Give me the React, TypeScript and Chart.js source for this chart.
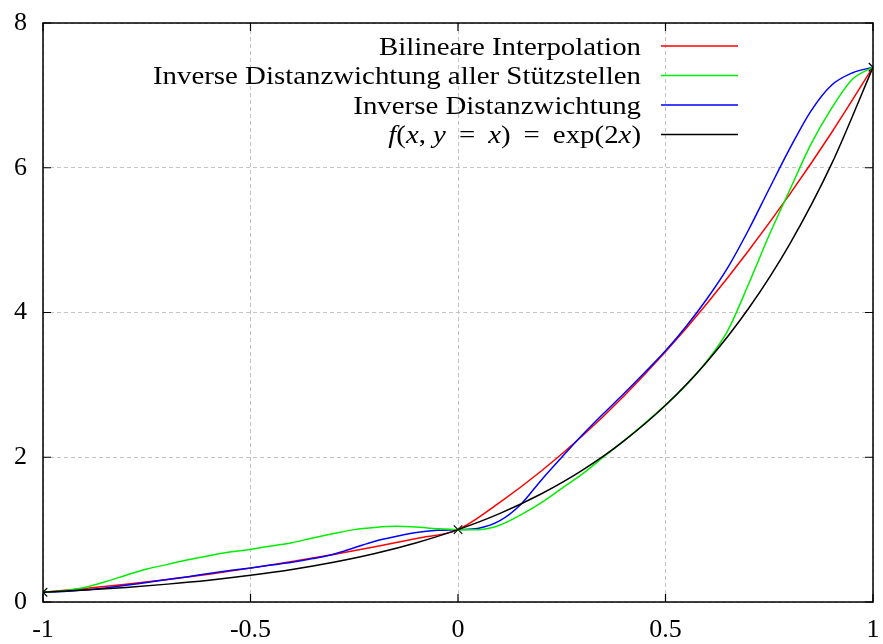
import { useEffect, useRef } from "react";
import { Chart, registerables } from "chart.js";
Chart.register(...registerables);

const xCoarse = [-1, -0.9, -0.8, -0.7, -0.6, -0.5, -0.4, -0.3, -0.2, -0.1, 0, 0.1, 0.2, 0.3, 0.4, 0.5, 0.6, 0.7, 0.8, 0.9, 1];
const bilinear = [0.135, 0.186, 0.244, 0.311, 0.385, 0.468, 0.558, 0.657, 0.763, 0.878, 1.0, 1.373, 1.806, 2.297, 2.847, 3.456, 4.125, 4.853, 5.639, 6.484, 7.389];
const exact = [0.135, 0.165, 0.202, 0.247, 0.301, 0.368, 0.449, 0.549, 0.670, 0.819, 1.0, 1.221, 1.492, 1.822, 2.226, 2.718, 3.32, 4.055, 4.953, 6.05, 7.389];

const xFine = [-1, -0.95, -0.9, -0.85, -0.8, -0.75, -0.7, -0.65, -0.6, -0.55, -0.5, -0.45, -0.4, -0.35, -0.3, -0.25, -0.2, -0.15, -0.1, -0.05, 0,
  0.05, 0.1, 0.15, 0.2, 0.25, 0.3, 0.35, 0.4, 0.45, 0.5, 0.55, 0.6, 0.65, 0.7, 0.75, 0.8, 0.85, 0.9, 0.95, 1];
const idwAll = [0.135, 0.155, 0.2, 0.28, 0.37, 0.455, 0.52, 0.585, 0.64, 0.69, 0.727, 0.775, 0.82, 0.885, 0.945, 1.0, 1.03, 1.045, 1.035, 1.012, 1.0,
  1.0, 1.06, 1.2, 1.37, 1.57, 1.77, 2.0, 2.23, 2.47, 2.72, 3.0, 3.33, 3.75, 4.39, 5.07, 5.7, 6.32, 6.82, 7.22, 7.389];
const idw = [0.135, 0.145, 0.165, 0.195, 0.23, 0.27, 0.31, 0.35, 0.395, 0.435, 0.47, 0.51, 0.55, 0.6, 0.66, 0.75, 0.84, 0.905, 0.96, 0.99, 1.0,
  1.02, 1.12, 1.34, 1.68, 2.0, 2.31, 2.6, 2.88, 3.17, 3.47, 3.81, 4.19, 4.62, 5.14, 5.71, 6.27, 6.78, 7.14, 7.31, 7.389];

const nodesX = [-1, 0, 1];
const nodesY = [0.135, 1.0, 7.389];

const xTicks = [-1, -0.5, 0, 0.5, 1];
const yTicks = [0, 2, 4, 6, 8];

const seriesLabels = ["Bilineare Interpolation", "Inverse Distanzwichtung aller Stützstellen", "Inverse Distanzwichtung", "f(x, y = x) = exp(2x)"];
const seriesColors = ["#ff0000", "#00ee00", "#0000ff", "#000000"];

const FONT = "'Liberation Serif', 'DejaVu Serif', serif";

const pts = (xs: number[], ys: number[]) => xs.map((x, i) => ({ x, y: ys[i] }));

const framePlugin = {
  id: "frame",
  afterDatasetsDraw(chart: any) {
    const { ctx, chartArea: a, scales } = chart;
    ctx.save();
    ctx.strokeStyle = "#000";
    ctx.lineWidth = 1.5;
    ctx.strokeRect(a.left, a.top, a.right - a.left, a.bottom - a.top);
    ctx.lineWidth = 1.2;
    const L = 8;
    ctx.beginPath();
    xTicks.forEach((v) => {
      const px = scales.x.getPixelForValue(v);
      ctx.moveTo(px, a.bottom); ctx.lineTo(px, a.bottom - L);
      ctx.moveTo(px, a.top); ctx.lineTo(px, a.top + L);
    });
    yTicks.forEach((v) => {
      const py = scales.y.getPixelForValue(v);
      ctx.moveTo(a.left, py); ctx.lineTo(a.left + L, py);
      ctx.moveTo(a.right, py); ctx.lineTo(a.right - L, py);
    });
    ctx.stroke();

    // legend
    const rowsY = [46, 75.5, 105, 134.5];
    const textRight = 641;
    const lineX0 = 661, lineX1 = 738;
    const size = 26;
    const sx = 1.11;
    const normal = `${size}px ${FONT}`;
    const italic = `italic ${size}px ${FONT}`;
    ctx.textBaseline = "alphabetic";
    ctx.fillStyle = "#000";
    seriesLabels.forEach((label, i) => {
      const y = rowsY[i];
      let parts: { t: string; it: boolean }[];
      if (i === 3) {
        parts = [
          { t: "f", it: true }, { t: "(", it: false }, { t: "x", it: true }, { t: ", ", it: false },
          { t: "y", it: true }, { t: " \u2009=\u2009 ", it: false }, { t: "x", it: true }, { t: ") \u2009=\u2009 exp(2", it: false },
          { t: "x", it: true }, { t: ")", it: false },
        ];
      } else {
        parts = [{ t: label, it: false }];
      }
      let total = 0;
      parts.forEach((p) => { ctx.font = p.it ? italic : normal; total += ctx.measureText(p.t).width; });
      ctx.save();
      ctx.translate(textRight, y + size * 0.333);
      ctx.scale(sx, 1);
      let x = -total;
      ctx.textAlign = "left";
      parts.forEach((p) => {
        ctx.font = p.it ? italic : normal;
        ctx.fillText(p.t, x, 0);
        x += ctx.measureText(p.t).width;
      });
      ctx.restore();
      ctx.strokeStyle = seriesColors[i];
      ctx.lineWidth = 1.5;
      ctx.beginPath();
      ctx.moveTo(lineX0, y); ctx.lineTo(lineX1, y);
      ctx.stroke();
    });
    ctx.restore();
  },
};

export default function App() {
  const ref = useRef<HTMLCanvasElement>(null);
  useEffect(() => {
    document.body.style.margin = "0";
    const lineDs = (label: string, data: any, color: string) => ({
      label, data, borderColor: color, backgroundColor: color, borderWidth: 1.5,
      pointRadius: 0, showLine: true, fill: false, cubicInterpolationMode: "monotone" as const,
    });
    const chart = new Chart(ref.current!, {
      type: "scatter",
      data: {
        datasets: [
          lineDs(seriesLabels[3], pts(xCoarse, exact), seriesColors[3]),
          lineDs(seriesLabels[1], pts(xFine, idwAll), seriesColors[1]),
          lineDs(seriesLabels[2], pts(xFine, idw), seriesColors[2]),
          lineDs(seriesLabels[0], pts(xCoarse, bilinear), seriesColors[0]),
          {
            label: "Stützstellen", data: pts(nodesX, nodesY), showLine: false,
            pointStyle: "crossRot", pointRadius: 6, borderColor: "#000", borderWidth: 1.2,
          } as any,
        ],
      },
      options: {
        animation: false,
        responsive: false,
        layout: { padding: { top: 23, right: 10, left: 0, bottom: 0 } },
        plugins: { legend: { display: false }, tooltip: { enabled: false } },
        scales: {
          x: {
            type: "linear", min: -1, max: 1,
            afterBuildTicks: (s: any) => { s.ticks = xTicks.map((v) => ({ value: v })); },
            afterFit: (s: any) => { s.height = 42; s.paddingLeft = 0; s.paddingRight = 0; },
            ticks: { color: "#000", font: { family: FONT, size: 26 }, padding: 13, maxRotation: 0, callback: (v: any) => String(v) },
            grid: { color: "#c4c4c4", drawTicks: false, lineWidth: 1 },
            border: { display: false, dash: [4, 3] },
          },
          y: {
            type: "linear", min: 0, max: 8,
            afterBuildTicks: (s: any) => { s.ticks = yTicks.map((v) => ({ value: v })); },
            afterFit: (s: any) => { s.width = 43; s.paddingTop = 0; s.paddingBottom = 0; },
            ticks: { color: "#000", font: { family: FONT, size: 26 }, padding: 16, callback: (v: any) => String(v) },
            grid: { color: "#c4c4c4", drawTicks: false, lineWidth: 1 },
            border: { display: false, dash: [4, 3] },
          },
        },
      },
      plugins: [framePlugin],
    });
    return () => chart.destroy();
  }, []);
  return (
    <div style={{ position: "absolute", left: 0, top: 0, width: 883, height: 644, background: "#fff" }}>
      <canvas ref={ref} width={883} height={644} style={{ display: "block" }} />
    </div>
  );
}
